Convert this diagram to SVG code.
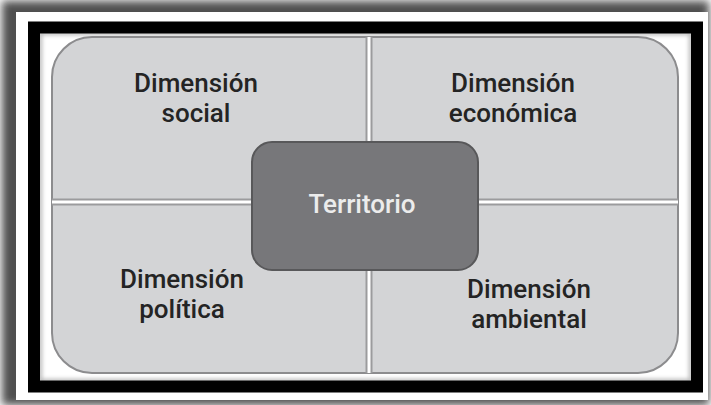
<svg xmlns="http://www.w3.org/2000/svg" width="711" height="405" viewBox="0 0 711 405">
  <defs>
    <filter id="blur" x="-5%" y="-5%" width="110%" height="110%">
      <feGaussianBlur stdDeviation="4"/>
    </filter>
    <filter id="soft" x="-5%" y="-5%" width="110%" height="110%">
      <feGaussianBlur stdDeviation="2"/>
    </filter>
    <clipPath id="panel">
      <rect x="52" y="37" width="626" height="336" rx="40"/>
    </clipPath>
    <style>
      .lbl { font-family: Roboto, "Liberation Sans", Arial, sans-serif; font-weight: 500; font-size: 26px; fill: #242424; text-anchor: middle; }
      .cen { font-family: Roboto, "Liberation Sans", Arial, sans-serif; font-weight: 500; font-size: 26px; fill: #ececec; text-anchor: middle; }
      .sepOuter { stroke: #9b9b9d; stroke-width: 7; fill: none; }
      .sepInner { stroke: #ffffff; stroke-width: 3; fill: none; }
    </style>
  </defs>

  <!-- background / frame -->
  <rect x="0" y="0" width="711" height="405" fill="#ffffff"/>
  <rect x="2" y="1" width="707" height="404" fill="#505050" filter="url(#blur)"/>
  <rect x="16" y="12" width="692" height="388" fill="#ffffff"/>
  <rect x="40" y="33" width="651" height="348" fill="none" stroke="#b5b5b5" stroke-width="4" filter="url(#soft)"/>
  <rect x="34" y="27.5" width="663" height="359" fill="none" stroke="#000000" stroke-width="12"/>

  <!-- panel -->
  <g id="panel-bg">
    <rect x="52" y="37" width="626" height="336" rx="40" fill="#d3d4d6" stroke="#8c8c8e" stroke-width="2"/>
  </g>

  <g id="connectors" clip-path="url(#panel)">
    <line class="sepOuter" x1="369" y1="37" x2="369" y2="373"/>
    <line class="sepOuter" x1="52" y1="202" x2="678" y2="202"/>
    <line class="sepInner" x1="369" y1="37" x2="369" y2="373"/>
    <line class="sepInner" x1="52" y1="202" x2="678" y2="202"/>
  </g>

  <g id="social">
    <text class="lbl" x="196" y="92">Dimensión</text>
    <text class="lbl" x="196" y="122">social</text>
  </g>
  <g id="economica">
    <text class="lbl" x="513" y="92">Dimensión</text>
    <text class="lbl" x="513" y="122">económica</text>
  </g>
  <g id="politica">
    <text class="lbl" x="182" y="288">Dimensión</text>
    <text class="lbl" x="182" y="318">política</text>
  </g>
  <g id="ambiental">
    <text class="lbl" x="529" y="298">Dimensión</text>
    <text class="lbl" x="529" y="328">ambiental</text>
  </g>

  <g id="territorio">
    <rect x="252" y="142" width="226" height="128" rx="20" fill="#77777a" stroke="#58585a" stroke-width="2"/>
    <text class="cen" x="362" y="213">Territorio</text>
  </g>
</svg>
